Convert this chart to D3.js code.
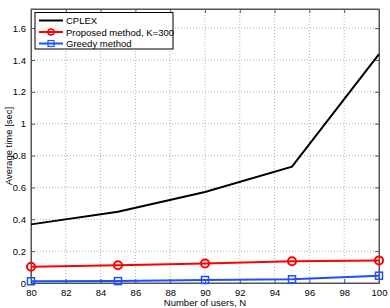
<!DOCTYPE html>
<html>
<head>
<meta charset="utf-8">
<script src="https://cdn.jsdelivr.net/npm/d3@7"></script>
<style>
  body { margin: 0; background: #fff; }
  svg { display: block; font-family: "Liberation Sans", Arial, sans-serif; }
  .grid line { stroke: #b0b0b0; stroke-dasharray: 1,2; stroke-width: 1; }
  .tick text { font-size: 9.5px; fill: #000; }
</style>
</head>
<body>
<div id="chart"></div>
<script>
// data
var users = [80, 85, 90, 95, 100];
var cplex = [0.368, 0.447, 0.571, 0.73, 1.437];
var proposed = [0.102, 0.111, 0.123, 0.136, 0.142];
var greedy = [0.011, 0.012, 0.019, 0.023, 0.046];
var xTicks = [80, 82, 84, 86, 88, 90, 92, 94, 96, 98, 100];
var yTicks = [0, 0.2, 0.4, 0.6, 0.8, 1, 1.2, 1.4, 1.6];
var legendNames = ["CPLEX", "Proposed method, K=300", "Greedy method"];

var W = 390, H = 308;
var m = {left: 31, right: 11, top: 9, bottom: 25};
var pw = W - m.left - m.right, ph = H - m.top - m.bottom;

var svg = d3.select('#chart').append('svg')
  .attr('width', W).attr('height', H);
var g = svg.append('g').attr('transform', 'translate(' + m.left + ',' + m.top + ')');

var x = d3.scaleLinear().domain([80, 100]).range([0, pw]);
var y = d3.scaleLinear().domain([0, 1.72]).range([ph, 0]);

// grid
g.append('g').attr('class', 'grid')
  .selectAll('line').data(xTicks.slice(1, -1)).enter().append('line')
  .attr('x1', d => x(d)).attr('x2', d => x(d)).attr('y1', 0).attr('y2', ph);
g.append('g').attr('class', 'grid')
  .selectAll('line').data(yTicks.slice(1)).enter().append('line')
  .attr('y1', d => y(d)).attr('y2', d => y(d)).attr('x1', 0).attr('x2', pw);

// axes, ticks inward like matlab
var fmt = d3.format('~g');
g.append('g').attr('transform', 'translate(0,' + ph + ')')
  .call(d3.axisBottom(x).tickValues(xTicks).tickSizeInner(-4).tickSizeOuter(0).tickPadding(6).tickFormat(fmt));
g.append('g')
  .call(d3.axisLeft(y).tickValues(yTicks).tickSizeInner(-4).tickSizeOuter(0).tickPadding(5).tickFormat(fmt));
g.append('g')
  .call(d3.axisTop(x).tickValues(xTicks).tickSizeInner(-4).tickSizeOuter(0).tickFormat(''));
g.append('g').attr('transform', 'translate(' + pw + ',0)')
  .call(d3.axisRight(y).tickValues(yTicks).tickSizeInner(-4).tickSizeOuter(0).tickFormat(''));
g.selectAll('.domain, .tick line').attr('stroke', '#555');
g.append('rect').attr('width', pw).attr('height', ph)
  .attr('fill', 'none').attr('stroke', '#555');

// lines
var line = d3.line().x(d => x(d[0])).y(d => y(d[1]));
var series = [
  {vals: cplex, color: '#000', marker: null},
  {vals: proposed, color: '#ff0000', marker: 'circle'},
  {vals: greedy, color: '#1f4dff', marker: 'square'}
];
series.forEach(s => {
  var pts = users.map((u, i) => [u, s.vals[i]]);
  g.append('path').datum(pts).attr('d', line)
    .attr('fill', 'none').attr('stroke', s.color).attr('stroke-width', 2);
  if (s.marker == 'circle') {
    g.selectAll(null).data(pts).enter().append('circle')
      .attr('cx', d => x(d[0])).attr('cy', d => y(d[1])).attr('r', 4)
      .attr('fill', 'none').attr('stroke', s.color).attr('stroke-width', 2);
  } else if (s.marker == 'square') {
    g.selectAll(null).data(pts).enter().append('rect')
      .attr('x', d => x(d[0]) - 3.5).attr('y', d => y(d[1]) - 3.5)
      .attr('width', 7).attr('height', 7)
      .attr('fill', 'none').attr('stroke', s.color).attr('stroke-width', 1.5);
  }
});

// legend
var lg = g.append('g').attr('transform', 'translate(4,3.5)');
lg.append('rect').attr('width', 138).attr('height', 36.5)
  .attr('fill', '#fff').attr('stroke', '#000').attr('stroke-width', 1);
series.forEach((s, i) => {
  var yy = 8 + i * 11.5;
  lg.append('line').attr('x1', 4).attr('x2', 28).attr('y1', yy).attr('y2', yy)
    .attr('stroke', s.color).attr('stroke-width', 2);
  if (s.marker == 'circle') {
    lg.append('circle').attr('cx', 16).attr('cy', yy).attr('r', 3)
      .attr('fill', 'none').attr('stroke', s.color).attr('stroke-width', 1.5);
  } else if (s.marker == 'square') {
    lg.append('rect').attr('x', 13).attr('y', yy - 3).attr('width', 6).attr('height', 6)
      .attr('fill', 'none').attr('stroke', s.color).attr('stroke-width', 1.2);
  }
  lg.append('text').attr('x', 31).attr('y', yy + 3.5)
    .attr('font-size', '9.5px').text(legendNames[i]);
});

// axis labels
svg.append('text').attr('x', m.left + pw / 2).attr('y', H - 2)
  .attr('text-anchor', 'middle').attr('font-size', '9.5px').text('Number of users, N');
svg.append('text')
  .attr('transform', 'translate(12,' + (m.top + ph / 2) + ') rotate(-90)')
  .attr('text-anchor', 'middle').attr('font-size', '9.5px').text('Average time [sec]');
</script>
</body>
</html>
